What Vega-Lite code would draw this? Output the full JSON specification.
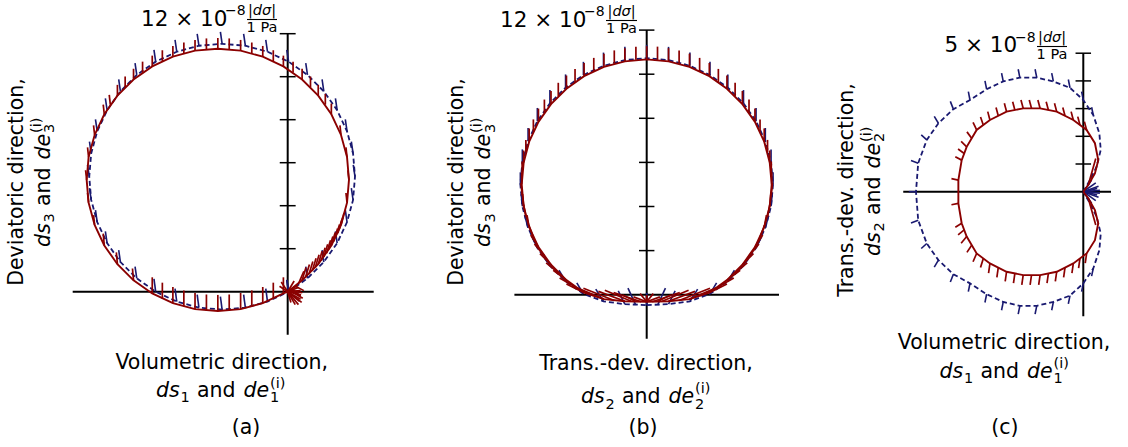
{
  "$schema": "https://vega.github.io/schema/vega-lite/v6.json",
  "padding": 0,
  "spacing": 0,
  "bounds": "flush",
  "background": "white",
  "config": {"view": {"stroke": null}},
  "datasets": {
    "A": [
      {"s":"r","i":0,"x":0,"y":0,"u":0.5,"v":0.2},
      {"s":"r","i":1,"x":0.67,"y":0.53,"u":0.85,"v":1.13},
      {"s":"r","i":2,"x":1.42,"y":1.28,"u":1.6,"v":1.88},
      {"s":"r","i":3,"x":2.03,"y":2.15,"u":2.21,"v":2.75},
      {"s":"r","i":4,"x":2.48,"y":3.11,"u":2.62,"v":3.66},
      {"s":"r","i":5,"x":2.76,"y":4.14,"u":2.71,"v":4.59},
      {"s":"r","i":6,"x":2.85,"y":5.2,"u":2.8,"v":5.65},
      {"s":"r","i":7,"x":2.76,"y":6.26,"u":2.71,"v":6.71},
      {"s":"r","i":8,"x":2.48,"y":7.29,"u":2.43,"v":7.74},
      {"s":"r","i":9,"x":2.03,"y":8.25,"u":2.03,"v":8.75},
      {"s":"r","i":10,"x":1.42,"y":9.12,"u":1.42,"v":9.62},
      {"s":"r","i":11,"x":0.67,"y":9.87,"u":0.67,"v":10.37},
      {"s":"r","i":12,"x":-0.2,"y":10.48,"u":-0.2,"v":10.98},
      {"s":"r","i":13,"x":-1.16,"y":10.93,"u":-1.16,"v":11.43},
      {"s":"r","i":14,"x":-2.19,"y":11.21,"u":-2.19,"v":11.71},
      {"s":"r","i":15,"x":-3.25,"y":11.3,"u":-3.25,"v":11.8},
      {"s":"r","i":16,"x":-4.31,"y":11.21,"u":-4.31,"v":11.71},
      {"s":"r","i":17,"x":-5.34,"y":10.93,"u":-5.34,"v":11.43},
      {"s":"r","i":18,"x":-6.3,"y":10.48,"u":-6.3,"v":10.98},
      {"s":"r","i":19,"x":-7.17,"y":9.87,"u":-7.17,"v":10.37},
      {"s":"r","i":20,"x":-7.92,"y":9.12,"u":-7.92,"v":9.62},
      {"s":"r","i":21,"x":-8.53,"y":8.25,"u":-8.58,"v":8.7},
      {"s":"r","i":22,"x":-8.98,"y":7.29,"u":-9.03,"v":7.74},
      {"s":"r","i":23,"x":-9.26,"y":6.26,"u":-9.31,"v":6.71},
      {"s":"r","i":24,"x":-9.35,"y":5.2,"u":-9.4,"v":5.65},
      {"s":"r","i":25,"x":-9.26,"y":4.14,"u":-9.31,"v":4.59},
      {"s":"r","i":26,"x":-8.98,"y":3.11,"u":-9.03,"v":3.56},
      {"s":"r","i":27,"x":-8.53,"y":2.15,"u":-8.58,"v":2.7},
      {"s":"r","i":28,"x":-7.92,"y":1.28,"u":-7.97,"v":1.83},
      {"s":"r","i":29,"x":-7.17,"y":0.53,"u":-7.22,"v":1.08},
      {"s":"r","i":30,"x":-6.3,"y":-0.08,"u":-6.3,"v":0.67},
      {"s":"r","i":31,"x":-5.34,"y":-0.53,"u":-5.34,"v":0.22},
      {"s":"r","i":32,"x":-4.31,"y":-0.81,"u":-4.31,"v":-0.06},
      {"s":"r","i":33,"x":-3.25,"y":-0.9,"u":-3.25,"v":-0.15},
      {"s":"r","i":34,"x":-2.19,"y":-0.81,"u":-2.19,"v":-0.06},
      {"s":"r","i":35,"x":-1.16,"y":-0.53,"u":-1.16,"v":0.22},
      {"s":"r","i":36,"x":-0.2,"y":-0.08,"u":-0.2,"v":0.67},
      {"s":"r","i":37,"x":0,"y":0,"u":0.55,"v":-0.45},
      {"s":"r","x":1.75,"y":8.7,"u":1.75,"v":9.2},
      {"s":"r","x":1.06,"y":9.51,"u":1.06,"v":10.01},
      {"s":"r","x":0.25,"y":10.2,"u":0.25,"v":10.7},
      {"s":"r","x":-0.67,"y":10.73,"u":-0.67,"v":11.23},
      {"s":"r","x":-1.67,"y":11.09,"u":-1.67,"v":11.59},
      {"s":"r","x":-2.72,"y":11.28,"u":-2.72,"v":11.78},
      {"s":"r","x":-3.78,"y":11.28,"u":-3.78,"v":11.78},
      {"s":"r","x":-4.83,"y":11.09,"u":-4.83,"v":11.59},
      {"s":"r","x":-5.83,"y":10.73,"u":-5.83,"v":11.23},
      {"s":"r","x":-6.75,"y":10.2,"u":-6.75,"v":10.7},
      {"s":"r","x":-7.56,"y":9.51,"u":-7.56,"v":10.01},
      {"s":"r","x":-8.25,"y":8.7,"u":-8.3,"v":9.15},
      {"s":"r","x":-5.83,"y":-0.33,"u":-5.83,"v":0.42},
      {"s":"r","x":-4.83,"y":-0.69,"u":-4.83,"v":0.06},
      {"s":"r","x":-3.78,"y":-0.88,"u":-3.78,"v":-0.13},
      {"s":"r","x":-2.72,"y":-0.88,"u":-2.72,"v":-0.13},
      {"s":"r","x":-1.67,"y":-0.69,"u":-1.67,"v":0.06},
      {"s":"r","x":-0.67,"y":-0.33,"u":-0.67,"v":0.42},
      {"s":"r","x":0.16,"y":0.14,"u":0.6,"v":-0.2},
      {"s":"r","x":0.34,"y":0.27,"u":0.75,"v":0.05},
      {"s":"r","x":0.51,"y":0.39,"u":0.75,"v":0.95},
      {"s":"r","x":0.83,"y":0.67,"u":1.01,"v":1.27},
      {"s":"r","x":0.99,"y":0.81,"u":1.17,"v":1.41},
      {"s":"r","x":1.14,"y":0.96,"u":1.32,"v":1.56},
      {"s":"r","x":1.28,"y":1.12,"u":1.46,"v":1.72},
      {"s":"r","x":1.56,"y":1.44,"u":1.74,"v":2.04},
      {"s":"r","x":1.68,"y":1.61,"u":1.86,"v":2.21},
      {"s":"r","x":1.81,"y":1.79,"u":1.99,"v":2.39},
      {"s":"r","x":1.92,"y":1.97,"u":2.1,"v":2.57},
      {"s":"r","x":2.14,"y":2.34,"u":2.32,"v":2.94},
      {"s":"r","x":2.23,"y":2.53,"u":2.41,"v":3.13},
      {"s":"r","x":2.33,"y":2.72,"u":2.51,"v":3.32},
      {"s":"r","x":2.4,"y":2.91,"u":2.56,"v":3.46},
      {"s":"r","x":0,"y":0,"u":0.65,"v":-0.5},
      {"s":"r","x":0,"y":0,"u":0.6,"v":-0.35},
      {"s":"r","x":0,"y":0,"u":0.62,"v":-0.15},
      {"s":"r","x":0,"y":0,"u":0.6,"v":0.05},
      {"s":"r","x":0,"y":0,"u":0.45,"v":0.3},
      {"s":"r","x":0,"y":0,"u":0.3,"v":0.5},
      {"s":"r","x":0,"y":0,"u":-0.3,"v":0.45},
      {"s":"r","x":0,"y":0,"u":-0.38,"v":0.25},
      {"s":"r","x":0,"y":0,"u":0.35,"v":-0.6},
      {"s":"r","x":0,"y":0,"u":0.15,"v":-0.5},
      {"s":"r","x":0,"y":0,"u":0.5,"v":-0.6},
      {"s":"r","x":0.08,"y":0.06,"u":0.7,"v":-0.3},
      {"s":"r","x":0.08,"y":0.06,"u":0.68,"v":-0.05},
      {"s":"b","i":0,"x":0.04,"y":0,"u":-0.04,"v":0.55},
      {"s":"b","i":1,"x":0.92,"y":0.62,"u":0.84,"v":1.17},
      {"s":"b","i":2,"x":1.68,"y":1.38,"u":1.6,"v":1.93},
      {"s":"b","i":3,"x":2.3,"y":2.26,"u":2.22,"v":2.81},
      {"s":"b","i":4,"x":2.76,"y":3.24,"u":2.68,"v":3.79},
      {"s":"b","i":5,"x":3.04,"y":4.27,"u":2.96,"v":4.82},
      {"s":"b","i":6,"x":3.13,"y":5.35,"u":3.05,"v":5.9},
      {"s":"b","i":7,"x":3.04,"y":6.43,"u":2.96,"v":6.98},
      {"s":"b","i":8,"x":2.76,"y":7.46,"u":2.68,"v":8.01},
      {"s":"b","i":9,"x":2.3,"y":8.44,"u":2.22,"v":8.99},
      {"s":"b","i":10,"x":1.68,"y":9.32,"u":1.6,"v":9.87},
      {"s":"b","i":11,"x":0.92,"y":10.08,"u":0.84,"v":10.63},
      {"s":"b","i":12,"x":0.04,"y":10.7,"u":-0.04,"v":11.25},
      {"s":"b","i":13,"x":-0.94,"y":11.16,"u":-1.02,"v":11.71},
      {"s":"b","i":14,"x":-1.97,"y":11.44,"u":-2.05,"v":11.99},
      {"s":"b","i":15,"x":-3.05,"y":11.53,"u":-3.13,"v":12.08},
      {"s":"b","i":16,"x":-4.13,"y":11.44,"u":-4.21,"v":11.99},
      {"s":"b","i":17,"x":-5.16,"y":11.16,"u":-5.24,"v":11.71},
      {"s":"b","i":18,"x":-6.14,"y":10.7,"u":-6.22,"v":11.25},
      {"s":"b","i":19,"x":-7.02,"y":10.08,"u":-7.1,"v":10.63},
      {"s":"b","i":20,"x":-7.78,"y":9.32,"u":-7.86,"v":9.87},
      {"s":"b","i":21,"x":-8.4,"y":8.44,"u":-8.48,"v":8.99},
      {"s":"b","i":22,"x":-8.86,"y":7.46,"u":-8.94,"v":8.01},
      {"s":"b","i":23,"x":-9.14,"y":6.43,"u":-9.22,"v":6.98},
      {"s":"b","i":24,"x":-9.23,"y":5.35,"u":-9.31,"v":5.9},
      {"s":"b","i":25,"x":-9.14,"y":4.27,"u":-9.22,"v":4.82},
      {"s":"b","i":26,"x":-8.86,"y":3.24,"u":-8.94,"v":3.79},
      {"s":"b","i":27,"x":-8.4,"y":2.26,"u":-8.48,"v":2.81},
      {"s":"b","i":28,"x":-7.78,"y":1.38,"u":-7.86,"v":1.93},
      {"s":"b","i":29,"x":-7.02,"y":0.62,"u":-7.1,"v":1.17},
      {"s":"b","i":30,"x":-6.14,"y":0,"u":-6.22,"v":0.6},
      {"s":"b","i":31,"x":-5.16,"y":-0.46,"u":-5.24,"v":0.14},
      {"s":"b","i":32,"x":-4.13,"y":-0.74,"u":-4.21,"v":-0.14},
      {"s":"b","i":33,"x":-3.05,"y":-0.83,"u":-3.13,"v":-0.23},
      {"s":"b","i":34,"x":-1.97,"y":-0.74,"u":-2.05,"v":-0.14},
      {"s":"b","i":35,"x":-0.94,"y":-0.46,"u":-1.02,"v":0.14},
      {"s":"b","i":36,"x":0.04,"y":0,"u":-0.04,"v":0.55}
    ],
    "B": [
      {"s":"r","i":0,"x":0,"y":-0.32,"u":0,"v":-0.02},
      {"s":"r","i":1,"x":0.99,"y":-0.3,"u":2.19,"v":0.15},
      {"s":"r","i":2,"x":1.94,"y":-0.2,"u":3.14,"v":0.3},
      {"s":"r","i":3,"x":2.84,"y":0.09,"u":3.64,"v":0.49},
      {"s":"r","i":4,"x":3.64,"y":0.66,"u":4.24,"v":1.11},
      {"s":"r","i":5,"x":4.34,"y":1.36,"u":4.84,"v":1.86},
      {"s":"r","i":6,"x":4.91,"y":2.16,"u":5.26,"v":2.71},
      {"s":"r","i":7,"x":5.33,"y":3.06,"u":5.43,"v":3.61},
      {"s":"r","i":8,"x":5.58,"y":4.01,"u":5.63,"v":4.56},
      {"s":"r","i":9,"x":5.67,"y":5,"u":5.67,"v":5.55},
      {"s":"r","i":10,"x":5.58,"y":5.99,"u":5.58,"v":6.54},
      {"s":"r","i":11,"x":5.33,"y":6.94,"u":5.33,"v":7.54},
      {"s":"r","i":12,"x":4.91,"y":7.84,"u":4.91,"v":8.44},
      {"s":"r","i":13,"x":4.34,"y":8.64,"u":4.34,"v":9.24},
      {"s":"r","i":14,"x":3.64,"y":9.34,"u":3.64,"v":9.94},
      {"s":"r","i":15,"x":2.84,"y":9.91,"u":2.84,"v":10.51},
      {"s":"r","i":16,"x":1.94,"y":10.33,"u":1.94,"v":10.93},
      {"s":"r","i":17,"x":0.99,"y":10.58,"u":0.99,"v":11.18},
      {"s":"r","i":18,"x":0,"y":10.67,"u":0,"v":11.27},
      {"s":"r","i":19,"x":-0.99,"y":10.58,"u":-0.99,"v":11.18},
      {"s":"r","i":20,"x":-1.94,"y":10.33,"u":-1.94,"v":10.93},
      {"s":"r","i":21,"x":-2.84,"y":9.91,"u":-2.84,"v":10.51},
      {"s":"r","i":22,"x":-3.64,"y":9.34,"u":-3.64,"v":9.94},
      {"s":"r","i":23,"x":-4.34,"y":8.64,"u":-4.34,"v":9.24},
      {"s":"r","i":24,"x":-4.91,"y":7.84,"u":-4.91,"v":8.44},
      {"s":"r","i":25,"x":-5.33,"y":6.94,"u":-5.33,"v":7.54},
      {"s":"r","i":26,"x":-5.58,"y":5.99,"u":-5.58,"v":6.54},
      {"s":"r","i":27,"x":-5.67,"y":5,"u":-5.67,"v":5.55},
      {"s":"r","i":28,"x":-5.58,"y":4.01,"u":-5.63,"v":4.56},
      {"s":"r","i":29,"x":-5.33,"y":3.06,"u":-5.43,"v":3.61},
      {"s":"r","i":30,"x":-4.91,"y":2.16,"u":-5.26,"v":2.71},
      {"s":"r","i":31,"x":-4.34,"y":1.36,"u":-4.84,"v":1.86},
      {"s":"r","i":32,"x":-3.64,"y":0.66,"u":-4.24,"v":1.11},
      {"s":"r","i":33,"x":-2.84,"y":0.09,"u":-3.64,"v":0.49},
      {"s":"r","i":34,"x":-1.94,"y":-0.2,"u":-3.14,"v":0.3},
      {"s":"r","i":35,"x":-0.99,"y":-0.3,"u":-2.19,"v":0.15},
      {"s":"r","i":36,"x":0,"y":-0.32,"u":0,"v":-0.02},
      {"s":"r","x":4.64,"y":8.25,"u":4.64,"v":8.85},
      {"s":"r","x":4.01,"y":9.01,"u":4.01,"v":9.61},
      {"s":"r","x":3.25,"y":9.64,"u":3.25,"v":10.24},
      {"s":"r","x":2.4,"y":10.14,"u":2.4,"v":10.74},
      {"s":"r","x":1.47,"y":10.48,"u":1.47,"v":11.08},
      {"s":"r","x":0.49,"y":10.65,"u":0.49,"v":11.25},
      {"s":"r","x":-0.49,"y":10.65,"u":-0.49,"v":11.25},
      {"s":"r","x":-1.47,"y":10.48,"u":-1.47,"v":11.08},
      {"s":"r","x":-2.4,"y":10.14,"u":-2.4,"v":10.74},
      {"s":"r","x":-3.25,"y":9.64,"u":-3.25,"v":10.24},
      {"s":"r","x":-4.01,"y":9.01,"u":-4.01,"v":9.61},
      {"s":"r","x":-4.64,"y":8.25,"u":-4.64,"v":8.85},
      {"s":"r","x":5.65,"y":5.49,"u":5.65,"v":6.04},
      {"s":"r","x":5.48,"y":6.47,"u":5.48,"v":7.02},
      {"s":"r","x":5.14,"y":7.4,"u":5.14,"v":7.95},
      {"s":"r","x":-5.14,"y":7.4,"u":-5.14,"v":7.95},
      {"s":"r","x":-5.48,"y":6.47,"u":-5.48,"v":7.02},
      {"s":"r","x":-5.65,"y":5.49,"u":-5.65,"v":6.04},
      {"s":"r","x":-5.65,"y":4.51,"u":-5.7,"v":5.06},
      {"s":"r","x":-5.48,"y":3.53,"u":-5.58,"v":4.08},
      {"s":"r","x":-5.14,"y":2.6,"u":-5.34,"v":3.15},
      {"s":"r","x":5.65,"y":4.51,"u":5.7,"v":5.06},
      {"s":"r","x":5.48,"y":3.53,"u":5.58,"v":4.08},
      {"s":"r","x":5.14,"y":2.6,"u":5.34,"v":3.15},
      {"s":"r","x":-4.64,"y":1.75,"u":-5.09,"v":2.3},
      {"s":"r","x":-4.01,"y":0.99,"u":-4.56,"v":1.44},
      {"s":"r","x":-3.25,"y":0.36,"u":-3.95,"v":0.76},
      {"s":"r","x":-2.4,"y":-0.05,"u":-3.4,"v":0.4},
      {"s":"r","x":-1.47,"y":-0.26,"u":-2.87,"v":0.29},
      {"s":"r","x":-0.49,"y":-0.31,"u":-1.09,"v":-0.01},
      {"s":"r","x":0.49,"y":-0.31,"u":1.09,"v":-0.01},
      {"s":"r","x":1.47,"y":-0.26,"u":2.87,"v":0.29},
      {"s":"r","x":2.4,"y":-0.05,"u":3.4,"v":0.4},
      {"s":"r","x":3.25,"y":0.36,"u":3.95,"v":0.76},
      {"s":"r","x":4.01,"y":0.99,"u":4.56,"v":1.44},
      {"s":"r","x":4.64,"y":1.75,"u":5.09,"v":2.3},
      {"s":"r","x":0,"y":-0.32,"u":-0.6,"v":-0.1},
      {"s":"r","x":0,"y":-0.32,"u":0.6,"v":-0.1},
      {"s":"r","x":0,"y":-0.32,"u":-0.3,"v":0.05},
      {"s":"r","x":0,"y":-0.32,"u":0.3,"v":0.05},
      {"s":"r","x":-0.25,"y":-0.32,"u":-1.5,"v":0.1},
      {"s":"r","x":0.25,"y":-0.32,"u":1.5,"v":0.1},
      {"s":"r","x":-0.7,"y":-0.3,"u":-1.9,"v":0.2},
      {"s":"r","x":0.7,"y":-0.3,"u":1.9,"v":0.2},
      {"s":"b","i":0,"x":0,"y":-0.47,"u":0,"v":0.08},
      {"s":"b","i":1,"x":0.99,"y":-0.43,"u":1.29,"v":0.17},
      {"s":"b","i":2,"x":1.96,"y":-0.3,"u":2.31,"v":0.25},
      {"s":"b","i":3,"x":2.87,"y":0.04,"u":3.17,"v":0.54},
      {"s":"b","i":4,"x":3.68,"y":0.61,"u":3.98,"v":1.11},
      {"s":"b","i":5,"x":4.39,"y":1.32,"u":4.69,"v":1.82},
      {"s":"b","i":6,"x":4.96,"y":2.13,"u":5.21,"v":2.63},
      {"s":"b","i":7,"x":5.38,"y":3.04,"u":5.53,"v":3.59},
      {"s":"b","i":8,"x":5.64,"y":4.01,"u":5.69,"v":4.56},
      {"s":"b","i":9,"x":5.73,"y":5,"u":5.73,"v":5.55},
      {"s":"b","i":10,"x":5.64,"y":5.99,"u":5.64,"v":6.59},
      {"s":"b","i":11,"x":5.38,"y":6.96,"u":5.38,"v":7.56},
      {"s":"b","i":12,"x":4.96,"y":7.87,"u":4.96,"v":8.47},
      {"s":"b","i":13,"x":4.39,"y":8.68,"u":4.39,"v":9.28},
      {"s":"b","i":14,"x":3.68,"y":9.39,"u":3.68,"v":9.99},
      {"s":"b","i":15,"x":2.87,"y":9.96,"u":2.87,"v":10.56},
      {"s":"b","i":16,"x":1.96,"y":10.38,"u":1.96,"v":10.98},
      {"s":"b","i":17,"x":0.99,"y":10.64,"u":0.99,"v":11.24},
      {"s":"b","i":18,"x":0,"y":10.73,"u":0,"v":11.33},
      {"s":"b","i":19,"x":-0.99,"y":10.64,"u":-0.99,"v":11.24},
      {"s":"b","i":20,"x":-1.96,"y":10.38,"u":-1.96,"v":10.98},
      {"s":"b","i":21,"x":-2.87,"y":9.96,"u":-2.87,"v":10.56},
      {"s":"b","i":22,"x":-3.68,"y":9.39,"u":-3.68,"v":9.99},
      {"s":"b","i":23,"x":-4.39,"y":8.68,"u":-4.39,"v":9.28},
      {"s":"b","i":24,"x":-4.96,"y":7.87,"u":-4.96,"v":8.47},
      {"s":"b","i":25,"x":-5.38,"y":6.96,"u":-5.38,"v":7.56},
      {"s":"b","i":26,"x":-5.64,"y":5.99,"u":-5.64,"v":6.59},
      {"s":"b","i":27,"x":-5.73,"y":5,"u":-5.73,"v":5.55},
      {"s":"b","i":28,"x":-5.64,"y":4.01,"u":-5.69,"v":4.56},
      {"s":"b","i":29,"x":-5.38,"y":3.04,"u":-5.53,"v":3.59},
      {"s":"b","i":30,"x":-4.96,"y":2.13,"u":-5.21,"v":2.63},
      {"s":"b","i":31,"x":-4.39,"y":1.32,"u":-4.69,"v":1.82},
      {"s":"b","i":32,"x":-3.68,"y":0.61,"u":-3.98,"v":1.11},
      {"s":"b","i":33,"x":-2.87,"y":0.04,"u":-3.17,"v":0.54},
      {"s":"b","i":34,"x":-1.96,"y":-0.3,"u":-2.31,"v":0.25},
      {"s":"b","i":35,"x":-0.99,"y":-0.43,"u":-1.29,"v":0.17},
      {"s":"b","i":36,"x":0,"y":-0.47,"u":0,"v":0.08},
      {"s":"b","x":-0.5,"y":-0.46,"u":-0.85,"v":0.3},
      {"s":"b","x":0.5,"y":-0.46,"u":0.85,"v":0.3}
    ],
    "C": [
      {"s":"r","i":0,"x":0,"y":0},
      {"s":"r","i":1,"x":0.18,"y":0.24,"u":0.45,"v":1.2},
      {"s":"r","i":2,"x":0.42,"y":0.66},
      {"s":"r","i":3,"x":0.54,"y":1.14},
      {"s":"r","i":4,"x":0.42,"y":1.75},
      {"s":"r","i":5,"x":0.12,"y":2.23,"u":0.04,"v":2.53},
      {"s":"r","i":6,"x":-0.36,"y":2.59,"u":-0.44,"v":2.89},
      {"s":"r","i":7,"x":-0.96,"y":2.89,"u":-1.04,"v":3.19},
      {"s":"r","i":8,"x":-1.56,"y":3.01,"u":-1.64,"v":3.31},
      {"s":"r","i":9,"x":-2.17,"y":3.01,"u":-2.25,"v":3.31},
      {"s":"r","i":10,"x":-2.77,"y":2.89,"u":-2.85,"v":3.19},
      {"s":"r","i":11,"x":-3.37,"y":2.59,"u":-3.45,"v":2.89},
      {"s":"r","i":12,"x":-3.85,"y":2.23,"u":-3.98,"v":2.5},
      {"s":"r","i":13,"x":-4.21,"y":1.62,"u":-4.41,"v":1.82},
      {"s":"r","i":14,"x":-4.39,"y":1.14,"u":-4.62,"v":1.26},
      {"s":"r","i":15,"x":-4.51,"y":0.42,"u":-4.76,"v":0.47},
      {"s":"r","i":16,"x":-4.51,"y":-0.42,"u":-4.76,"v":-0.47},
      {"s":"r","i":17,"x":-4.39,"y":-1.14,"u":-4.62,"v":-1.28},
      {"s":"r","i":18,"x":-4.21,"y":-1.62,"u":-4.41,"v":-1.86},
      {"s":"r","i":19,"x":-3.85,"y":-2.23,"u":-3.98,"v":-2.53},
      {"s":"r","i":20,"x":-3.37,"y":-2.59,"u":-3.42,"v":-2.94},
      {"s":"r","i":21,"x":-2.77,"y":-2.89,"u":-2.82,"v":-3.24},
      {"s":"r","i":22,"x":-2.17,"y":-3.01,"u":-2.22,"v":-3.36},
      {"s":"r","i":23,"x":-1.56,"y":-3.01,"u":-1.61,"v":-3.36},
      {"s":"r","i":24,"x":-0.96,"y":-2.89,"u":-1.01,"v":-3.24},
      {"s":"r","i":25,"x":-0.36,"y":-2.59,"u":-0.41,"v":-2.94},
      {"s":"r","i":26,"x":0.12,"y":-2.23,"u":0.07,"v":-2.58},
      {"s":"r","i":27,"x":0.42,"y":-1.75},
      {"s":"r","i":28,"x":0.54,"y":-1.14},
      {"s":"r","i":29,"x":0.42,"y":-0.66},
      {"s":"r","i":30,"x":0.18,"y":-0.24,"u":0.45,"v":-1.2},
      {"s":"r","i":31,"x":0,"y":0},
      {"s":"r","x":-0.12,"y":2.41,"u":-0.2,"v":2.71},
      {"s":"r","x":-0.66,"y":2.74,"u":-0.74,"v":3.04},
      {"s":"r","x":-1.26,"y":2.95,"u":-1.34,"v":3.25},
      {"s":"r","x":-1.87,"y":3.01,"u":-1.95,"v":3.31},
      {"s":"r","x":-2.47,"y":2.95,"u":-2.55,"v":3.25},
      {"s":"r","x":-3.07,"y":2.74,"u":-3.15,"v":3.04},
      {"s":"r","x":-3.61,"y":2.41,"u":-3.71,"v":2.7},
      {"s":"r","x":-4.03,"y":1.93,"u":-4.2,"v":2.16},
      {"s":"r","x":-4.3,"y":1.38,"u":-4.52,"v":1.54},
      {"s":"r","x":-0.12,"y":-2.41,"u":-0.17,"v":-2.76},
      {"s":"r","x":-0.66,"y":-2.74,"u":-0.71,"v":-3.09},
      {"s":"r","x":-1.26,"y":-2.95,"u":-1.31,"v":-3.3},
      {"s":"r","x":-1.87,"y":-3.01,"u":-1.92,"v":-3.36},
      {"s":"r","x":-2.47,"y":-2.95,"u":-2.52,"v":-3.3},
      {"s":"r","x":-3.07,"y":-2.74,"u":-3.12,"v":-3.09},
      {"s":"r","x":-3.61,"y":-2.41,"u":-3.71,"v":-2.74},
      {"s":"r","x":-4.03,"y":-1.93,"u":-4.2,"v":-2.19},
      {"s":"r","x":-4.3,"y":-1.38,"u":-4.52,"v":-1.56},
      {"s":"b","i":0,"x":0,"y":0},
      {"s":"b","i":1,"x":0.24,"y":0.42},
      {"s":"b","i":2,"x":0.48,"y":0.9},
      {"s":"b","i":3,"x":0.63,"y":1.51},
      {"s":"b","i":4,"x":0.58,"y":2.11},
      {"s":"b","i":5,"x":0.36,"y":2.77,"u":0.3,"v":3.05},
      {"s":"b","i":6,"x":0,"y":3.31,"u":-0.06,"v":3.61},
      {"s":"b","i":7,"x":-0.48,"y":3.75,"u":-0.54,"v":4.05},
      {"s":"b","i":8,"x":-1.08,"y":3.98,"u":-1.14,"v":4.28},
      {"s":"b","i":9,"x":-1.68,"y":4.12,"u":-1.74,"v":4.42},
      {"s":"b","i":10,"x":-2.29,"y":4.12,"u":-2.35,"v":4.42},
      {"s":"b","i":11,"x":-2.89,"y":3.98,"u":-2.95,"v":4.28},
      {"s":"b","i":12,"x":-3.49,"y":3.7,"u":-3.55,"v":4.0},
      {"s":"b","i":13,"x":-4.09,"y":3.31,"u":-4.15,"v":3.61},
      {"s":"b","i":14,"x":-4.69,"y":2.98,"u":-4.8,"v":3.26},
      {"s":"b","i":15,"x":-5.23,"y":2.47,"u":-5.38,"v":2.72},
      {"s":"b","i":16,"x":-5.65,"y":1.87,"u":-5.85,"v":2.05},
      {"s":"b","i":17,"x":-5.96,"y":1.03,"u":-6.22,"v":1.13},
      {"s":"b","i":18,"x":-6.04,"y":0,"u":-6.3,"v":0},
      {"s":"b","i":19,"x":-5.96,"y":-1.03,"u":-6.22,"v":-1.13},
      {"s":"b","i":20,"x":-5.65,"y":-1.87,"u":-5.85,"v":-2.05},
      {"s":"b","i":21,"x":-5.23,"y":-2.47,"u":-5.38,"v":-2.72},
      {"s":"b","i":22,"x":-4.69,"y":-2.98,"u":-4.8,"v":-3.26},
      {"s":"b","i":23,"x":-4.09,"y":-3.31,"u":-4.15,"v":-3.61},
      {"s":"b","i":24,"x":-3.49,"y":-3.7,"u":-3.55,"v":-4.0},
      {"s":"b","i":25,"x":-2.89,"y":-3.98,"u":-2.95,"v":-4.28},
      {"s":"b","i":26,"x":-2.29,"y":-4.12,"u":-2.35,"v":-4.42},
      {"s":"b","i":27,"x":-1.68,"y":-4.12,"u":-1.74,"v":-4.42},
      {"s":"b","i":28,"x":-1.08,"y":-3.98,"u":-1.14,"v":-4.28},
      {"s":"b","i":29,"x":-0.48,"y":-3.75,"u":-0.54,"v":-4.05},
      {"s":"b","i":30,"x":0,"y":-3.31,"u":-0.06,"v":-3.61},
      {"s":"b","i":31,"x":0.36,"y":-2.77,"u":0.3,"v":-3.05},
      {"s":"b","i":32,"x":0.58,"y":-2.11},
      {"s":"b","i":33,"x":0.63,"y":-1.51},
      {"s":"b","i":34,"x":0.48,"y":-0.9},
      {"s":"b","i":35,"x":0.24,"y":-0.42},
      {"s":"b","i":36,"x":0,"y":0},
      {"s":"b","x":0,"y":0,"u":0.55,"v":0.2},
      {"s":"b","x":0,"y":0,"u":0.6,"v":0.05},
      {"s":"b","x":0,"y":0,"u":0.6,"v":-0.05},
      {"s":"b","x":0,"y":0,"u":0.55,"v":-0.2},
      {"s":"b","x":0,"y":0,"u":0.45,"v":0.32},
      {"s":"b","x":0,"y":0,"u":0.45,"v":-0.32},
      {"s":"b","x":0,"y":0,"u":0.3,"v":0.42},
      {"s":"b","x":0,"y":0,"u":0.3,"v":-0.42},
      {"s":"b","x":0.05,"y":0,"u":0.5,"v":0.12},
      {"s":"b","x":0.05,"y":0,"u":0.5,"v":-0.12}
    ],
    "R": [
      {"p":"a","k":"axis","x":-10,"y":0,"x2":4,"y2":0},
      {"p":"a","k":"axis","x":0,"y":-2,"x2":0,"y2":12},
      {"p":"a","k":"tick","x":-0.37,"y":2,"x2":0.37,"y2":2},
      {"p":"a","k":"tick","x":-0.37,"y":4,"x2":0.37,"y2":4},
      {"p":"a","k":"tick","x":-0.37,"y":6,"x2":0.37,"y2":6},
      {"p":"a","k":"tick","x":-0.37,"y":8,"x2":0.37,"y2":8},
      {"p":"a","k":"tick","x":-0.37,"y":10,"x2":0.37,"y2":10},
      {"p":"a","k":"tick","x":-0.37,"y":12,"x2":0.37,"y2":12},
      {"p":"a","k":"bar","x":-1.893,"y":12.66,"x2":-0.498,"y2":12.66},
      {"p":"b","k":"axis","x":-6,"y":0,"x2":6,"y2":0},
      {"p":"b","k":"axis","x":0,"y":-2,"x2":0,"y2":12},
      {"p":"b","k":"tick","x":-0.35,"y":2,"x2":0.35,"y2":2},
      {"p":"b","k":"tick","x":-0.35,"y":4,"x2":0.35,"y2":4},
      {"p":"b","k":"tick","x":-0.35,"y":6,"x2":0.35,"y2":6},
      {"p":"b","k":"tick","x":-0.35,"y":8,"x2":0.35,"y2":8},
      {"p":"b","k":"tick","x":-0.35,"y":10,"x2":0.35,"y2":10},
      {"p":"b","k":"tick","x":-0.35,"y":12,"x2":0.35,"y2":12},
      {"p":"b","k":"bar","x":-1.846,"y":12.435,"x2":-0.44,"y2":12.435},
      {"p":"c","k":"axis","x":-6.5,"y":0,"x2":1,"y2":0},
      {"p":"c","k":"axis","x":0,"y":-4.5,"x2":0,"y2":5},
      {"p":"c","k":"tick","x":-0.28,"y":1,"x2":0.28,"y2":1},
      {"p":"c","k":"tick","x":-0.28,"y":2,"x2":0.28,"y2":2},
      {"p":"c","k":"tick","x":-0.28,"y":3,"x2":0.28,"y2":3},
      {"p":"c","k":"tick","x":-0.28,"y":4,"x2":0.28,"y2":4},
      {"p":"c","k":"tick","x":-0.28,"y":5,"x2":0.28,"y2":5},
      {"p":"c","k":"bar","x":-1.671,"y":5.242,"x2":-0.588,"y2":5.242}
    ],
    "T": [
      {"p":"a","role":"axis","dir":"h","t":"Volumetric direction,","x":-3.07,"y":-3.572},
      {"p":"a","role":"sym","dir":"h","t":"ds","x":-6.126,"y":-4.912},
      {"p":"a","role":"idx","dir":"h","t":"1","x":-4.986,"y":-5.13},
      {"p":"a","role":"word","dir":"h","t":"and","x":-4.219,"y":-4.912},
      {"p":"a","role":"sym","dir":"h","t":"de","x":-2.056,"y":-4.912},
      {"p":"a","role":"idx","dir":"h","t":"1","x":-0.823,"y":-5.13},
      {"p":"a","role":"idx","dir":"h","t":"(i)","x":-0.823,"y":-4.479},
      {"p":"a","role":"panel","dir":"h","t":"(a)","x":-1.94,"y":-6.619},
      {"p":"a","role":"axis","dir":"v","t":"Deviatoric direction,","x":-12.312,"y":5.102},
      {"p":"a","role":"sym","dir":"v","t":"ds","x":-11.056,"y":2.079},
      {"p":"a","role":"idx","dir":"v","t":"3","x":-10.847,"y":3.219},
      {"p":"a","role":"word","dir":"v","t":"and","x":-11.056,"y":3.986},
      {"p":"a","role":"sym","dir":"v","t":"de","x":-11.056,"y":6.149},
      {"p":"a","role":"idx","dir":"v","t":"3","x":-10.847,"y":7.381},
      {"p":"a","role":"idx","dir":"v","t":"(i)","x":-11.475,"y":7.381},
      {"p":"a","role":"scale","dir":"h","t":"12 × 10","x":-6.823,"y":12.358},
      {"p":"a","role":"pow","dir":"h","t":"−8","x":-2.916,"y":12.847},
      {"p":"a","role":"num","dir":"h","t":"|dσ|","x":-1.847,"y":12.87},
      {"p":"a","role":"den","dir":"h","t":"1 Pa","x":-1.195,"y":12.079},
      {"p":"b","role":"axis","dir":"h","t":"Trans.-dev. direction,","x":-0.032,"y":-3.415},
      {"p":"b","role":"sym","dir":"h","t":"ds","x":-2.98,"y":-4.912},
      {"p":"b","role":"idx","dir":"h","t":"2","x":-1.868,"y":-5.161},
      {"p":"b","role":"word","dir":"h","t":"and","x":-1.12,"y":-4.912},
      {"p":"b","role":"sym","dir":"h","t":"de","x":0.989,"y":-4.912},
      {"p":"b","role":"idx","dir":"h","t":"2","x":2.19,"y":-5.161},
      {"p":"b","role":"idx","dir":"h","t":"(i)","x":2.19,"y":-4.458},
      {"p":"b","role":"panel","dir":"h","t":"(b)","x":-0.168,"y":-6.317},
      {"p":"b","role":"axis","dir":"v","t":"Deviatoric direction,","x":-8.331,"y":5.111},
      {"p":"b","role":"sym","dir":"v","t":"ds","x":-7.107,"y":2.163},
      {"p":"b","role":"idx","dir":"v","t":"3","x":-6.902,"y":3.274},
      {"p":"b","role":"word","dir":"v","t":"and","x":-7.107,"y":4.023},
      {"p":"b","role":"sym","dir":"v","t":"de","x":-7.107,"y":6.132},
      {"p":"b","role":"idx","dir":"v","t":"3","x":-6.902,"y":7.333},
      {"p":"b","role":"idx","dir":"v","t":"(i)","x":-7.515,"y":7.333},
      {"p":"b","role":"scale","dir":"h","t":"12 × 10","x":-6.653,"y":12.141},
      {"p":"b","role":"pow","dir":"h","t":"−8","x":-2.844,"y":12.639},
      {"p":"b","role":"num","dir":"h","t":"|dσ|","x":-1.778,"y":12.639},
      {"p":"b","role":"den","dir":"h","t":"1 Pa","x":-1.143,"y":11.868},
      {"p":"c","role":"axis","dir":"h","t":"Volumetric direction,","x":-2.863,"y":-5.679},
      {"p":"c","role":"sym","dir":"h","t":"ds","x":-5.195,"y":-6.726},
      {"p":"c","role":"idx","dir":"h","t":"1","x":-4.307,"y":-6.924},
      {"p":"c","role":"word","dir":"h","t":"and","x":-3.715,"y":-6.726},
      {"p":"c","role":"sym","dir":"h","t":"de","x":-2.032,"y":-6.726},
      {"p":"c","role":"idx","dir":"h","t":"1","x":-1.076,"y":-6.924},
      {"p":"c","role":"idx","dir":"h","t":"(i)","x":-1.076,"y":-6.347},
      {"p":"c","role":"panel","dir":"h","t":"(c)","x":-2.827,"y":-8.747},
      {"p":"c","role":"axis","dir":"v","t":"Trans.-dev. direction,","x":-8.296,"y":0.061},
      {"p":"c","role":"sym","dir":"v","t":"ds","x":-7.339,"y":-2.321},
      {"p":"c","role":"idx","dir":"v","t":"2","x":-7.177,"y":-1.437},
      {"p":"c","role":"word","dir":"v","t":"and","x":-7.339,"y":-0.841},
      {"p":"c","role":"sym","dir":"v","t":"de","x":-7.339,"y":0.838},
      {"p":"c","role":"idx","dir":"v","t":"2","x":-7.177,"y":1.794},
      {"p":"c","role":"idx","dir":"v","t":"(i)","x":-7.664,"y":1.794},
      {"p":"c","role":"scale","dir":"h","t":"5 × 10","x":-5.011,"y":5.043},
      {"p":"c","role":"pow","dir":"h","t":"−8","x":-2.466,"y":5.422},
      {"p":"c","role":"num","dir":"h","t":"|dσ|","x":-1.635,"y":5.422},
      {"p":"c","role":"den","dir":"h","t":"1 Pa","x":-1.13,"y":4.791}
    ]
  },
  "hconcat": [
    {
      "width": 376,
      "height": 447,
      "encoding": {
        "x": {"field": "x", "type": "quantitative", "axis": null, "scale": {"domain": [-13.381, 4.107], "nice": false, "zero": false}},
        "y": {"field": "y", "type": "quantitative", "axis": null, "scale": {"domain": [-7.223, 13.567], "nice": false, "zero": false}}
      },
      "layer": [
        {"data": {"name": "R"}, "transform": [{"filter": "datum.p == 'a' && datum.k == 'axis'"}], "mark": {"type": "rule", "color": "black", "strokeWidth": 2}, "encoding": {"x2": {"field": "x2"}, "y2": {"field": "y2"}}},
        {"data": {"name": "R"}, "transform": [{"filter": "datum.p == 'a' && datum.k == 'tick'"}], "mark": {"type": "rule", "color": "black", "strokeWidth": 1.5}, "encoding": {"x2": {"field": "x2"}, "y2": {"field": "y2"}}},
        {"data": {"name": "R"}, "transform": [{"filter": "datum.p == 'a' && datum.k == 'bar'"}], "mark": {"type": "rule", "color": "black", "strokeWidth": 1.1}, "encoding": {"x2": {"field": "x2"}, "y2": {"field": "y2"}}},
        {"data": {"name": "A"}, "transform": [{"filter": "datum.s == 'b' && isValid(datum.i)"}], "mark": {"type": "line", "color": "#191970", "strokeWidth": 1.8, "strokeDash": [5, 3]}, "encoding": {"order": {"field": "i", "type": "quantitative"}}},
        {"data": {"name": "A"}, "transform": [{"filter": "datum.s == 'b' && isValid(datum.u)"}], "mark": {"type": "rule", "color": "#191970", "strokeWidth": 1.6}, "encoding": {"x2": {"field": "u"}, "y2": {"field": "v"}}},
        {"data": {"name": "A"}, "transform": [{"filter": "datum.s == 'r' && isValid(datum.i)"}], "mark": {"type": "line", "color": "#8b0000", "strokeWidth": 1.9}, "encoding": {"order": {"field": "i", "type": "quantitative"}}},
        {"data": {"name": "A"}, "transform": [{"filter": "datum.s == 'r' && isValid(datum.u)"}], "mark": {"type": "rule", "color": "#8b0000", "strokeWidth": 1.7}, "encoding": {"x2": {"field": "u"}, "y2": {"field": "v"}}},
        {"data": {"name": "T"}, "transform": [{"filter": "datum.p == 'a' && indexof(['axis','panel','den'], datum.role) >= 0"}], "mark": {"type": "text", "align": "center", "baseline": "alphabetic", "font": "DejaVu Sans", "color": "black"},
         "encoding": {"text": {"field": "t"}, "size": {"field": "role", "type": "nominal", "legend": null, "scale": {"type": "ordinal", "domain": ["axis","panel","sym","word","idx","scale","pow","num","den"], "range": [20.5,20.5,20.5,20.5,14.5,21.5,14,14.5,14.5]}}, "angle": {"field": "dir", "type": "nominal", "legend": null, "scale": {"type": "ordinal", "domain": ["h","v"], "range": [0,270]}}}},
        {"data": {"name": "T"}, "transform": [{"filter": "datum.p == 'a' && indexof(['word','idx','scale','pow'], datum.role) >= 0"}], "mark": {"type": "text", "align": "left", "baseline": "alphabetic", "font": "DejaVu Sans", "color": "black"},
         "encoding": {"text": {"field": "t"}, "size": {"field": "role", "type": "nominal", "legend": null, "scale": {"type": "ordinal", "domain": ["axis","panel","sym","word","idx","scale","pow","num","den"], "range": [20.5,20.5,20.5,20.5,14.5,21.5,14,14.5,14.5]}}, "angle": {"field": "dir", "type": "nominal", "legend": null, "scale": {"type": "ordinal", "domain": ["h","v"], "range": [0,270]}}}},
        {"data": {"name": "T"}, "transform": [{"filter": "datum.p == 'a' && indexof(['sym','num'], datum.role) >= 0"}], "mark": {"type": "text", "align": "left", "baseline": "alphabetic", "font": "DejaVu Sans", "fontStyle": "italic", "color": "black"},
         "encoding": {"text": {"field": "t"}, "size": {"field": "role", "type": "nominal", "legend": null, "scale": {"type": "ordinal", "domain": ["axis","panel","sym","word","idx","scale","pow","num","den"], "range": [20.5,20.5,20.5,20.5,14.5,21.5,14,14.5,14.5]}}, "angle": {"field": "dir", "type": "nominal", "legend": null, "scale": {"type": "ordinal", "domain": ["h","v"], "range": [0,270]}}}}
      ]
    },
    {
      "width": 414,
      "height": 447,
      "encoding": {
        "x": {"field": "x", "type": "quantitative", "axis": null, "scale": {"domain": [-12.277, 6.499], "nice": false, "zero": false}},
        "y": {"field": "y", "type": "quantitative", "axis": null, "scale": {"domain": [-6.907, 13.365], "nice": false, "zero": false}}
      },
      "layer": [
        {"data": {"name": "R"}, "transform": [{"filter": "datum.p == 'b' && datum.k == 'axis'"}], "mark": {"type": "rule", "color": "black", "strokeWidth": 2}, "encoding": {"x2": {"field": "x2"}, "y2": {"field": "y2"}}},
        {"data": {"name": "R"}, "transform": [{"filter": "datum.p == 'b' && datum.k == 'tick'"}], "mark": {"type": "rule", "color": "black", "strokeWidth": 1.5}, "encoding": {"x2": {"field": "x2"}, "y2": {"field": "y2"}}},
        {"data": {"name": "R"}, "transform": [{"filter": "datum.p == 'b' && datum.k == 'bar'"}], "mark": {"type": "rule", "color": "black", "strokeWidth": 1.1}, "encoding": {"x2": {"field": "x2"}, "y2": {"field": "y2"}}},
        {"data": {"name": "B"}, "transform": [{"filter": "datum.s == 'b' && isValid(datum.i)"}], "mark": {"type": "line", "color": "#191970", "strokeWidth": 1.8, "strokeDash": [5, 3]}, "encoding": {"order": {"field": "i", "type": "quantitative"}}},
        {"data": {"name": "B"}, "transform": [{"filter": "datum.s == 'b' && isValid(datum.u)"}], "mark": {"type": "rule", "color": "#191970", "strokeWidth": 1.6}, "encoding": {"x2": {"field": "u"}, "y2": {"field": "v"}}},
        {"data": {"name": "B"}, "transform": [{"filter": "datum.s == 'r' && isValid(datum.i)"}], "mark": {"type": "line", "color": "#8b0000", "strokeWidth": 1.9}, "encoding": {"order": {"field": "i", "type": "quantitative"}}},
        {"data": {"name": "B"}, "transform": [{"filter": "datum.s == 'r' && isValid(datum.u)"}], "mark": {"type": "rule", "color": "#8b0000", "strokeWidth": 1.7}, "encoding": {"x2": {"field": "u"}, "y2": {"field": "v"}}},
        {"data": {"name": "T"}, "transform": [{"filter": "datum.p == 'b' && indexof(['axis','panel','den'], datum.role) >= 0"}], "mark": {"type": "text", "align": "center", "baseline": "alphabetic", "font": "DejaVu Sans", "color": "black"},
         "encoding": {"text": {"field": "t"}, "size": {"field": "role", "type": "nominal", "legend": null, "scale": {"type": "ordinal", "domain": ["axis","panel","sym","word","idx","scale","pow","num","den"], "range": [20.5,20.5,20.5,20.5,14.5,21.5,14,14.5,14.5]}}, "angle": {"field": "dir", "type": "nominal", "legend": null, "scale": {"type": "ordinal", "domain": ["h","v"], "range": [0,270]}}}},
        {"data": {"name": "T"}, "transform": [{"filter": "datum.p == 'b' && indexof(['word','idx','scale','pow'], datum.role) >= 0"}], "mark": {"type": "text", "align": "left", "baseline": "alphabetic", "font": "DejaVu Sans", "color": "black"},
         "encoding": {"text": {"field": "t"}, "size": {"field": "role", "type": "nominal", "legend": null, "scale": {"type": "ordinal", "domain": ["axis","panel","sym","word","idx","scale","pow","num","den"], "range": [20.5,20.5,20.5,20.5,14.5,21.5,14,14.5,14.5]}}, "angle": {"field": "dir", "type": "nominal", "legend": null, "scale": {"type": "ordinal", "domain": ["h","v"], "range": [0,270]}}}},
        {"data": {"name": "T"}, "transform": [{"filter": "datum.p == 'b' && indexof(['sym','num'], datum.role) >= 0"}], "mark": {"type": "text", "align": "left", "baseline": "alphabetic", "font": "DejaVu Sans", "fontStyle": "italic", "color": "black"},
         "encoding": {"text": {"field": "t"}, "size": {"field": "role", "type": "nominal", "legend": null, "scale": {"type": "ordinal", "domain": ["axis","panel","sym","word","idx","scale","pow","num","den"], "range": [20.5,20.5,20.5,20.5,14.5,21.5,14,14.5,14.5]}}, "angle": {"field": "dir", "type": "nominal", "legend": null, "scale": {"type": "ordinal", "domain": ["h","v"], "range": [0,270]}}}}
      ]
    },
    {
      "width": 338,
      "height": 447,
      "encoding": {
        "x": {"field": "x", "type": "quantitative", "axis": null, "scale": {"domain": [-10.588, 1.614], "nice": false, "zero": false}},
        "y": {"field": "y", "type": "quantitative", "axis": null, "scale": {"domain": [-9.217, 6.921], "nice": false, "zero": false}}
      },
      "layer": [
        {"data": {"name": "R"}, "transform": [{"filter": "datum.p == 'c' && datum.k == 'axis'"}], "mark": {"type": "rule", "color": "black", "strokeWidth": 2}, "encoding": {"x2": {"field": "x2"}, "y2": {"field": "y2"}}},
        {"data": {"name": "R"}, "transform": [{"filter": "datum.p == 'c' && datum.k == 'tick'"}], "mark": {"type": "rule", "color": "black", "strokeWidth": 1.5}, "encoding": {"x2": {"field": "x2"}, "y2": {"field": "y2"}}},
        {"data": {"name": "R"}, "transform": [{"filter": "datum.p == 'c' && datum.k == 'bar'"}], "mark": {"type": "rule", "color": "black", "strokeWidth": 1.1}, "encoding": {"x2": {"field": "x2"}, "y2": {"field": "y2"}}},
        {"data": {"name": "C"}, "transform": [{"filter": "datum.s == 'b' && isValid(datum.i)"}], "mark": {"type": "line", "color": "#191970", "strokeWidth": 1.8, "strokeDash": [5, 3]}, "encoding": {"order": {"field": "i", "type": "quantitative"}}},
        {"data": {"name": "C"}, "transform": [{"filter": "datum.s == 'b' && isValid(datum.u)"}], "mark": {"type": "rule", "color": "#191970", "strokeWidth": 1.6}, "encoding": {"x2": {"field": "u"}, "y2": {"field": "v"}}},
        {"data": {"name": "C"}, "transform": [{"filter": "datum.s == 'r' && isValid(datum.i)"}], "mark": {"type": "line", "color": "#8b0000", "strokeWidth": 1.9}, "encoding": {"order": {"field": "i", "type": "quantitative"}}},
        {"data": {"name": "C"}, "transform": [{"filter": "datum.s == 'r' && isValid(datum.u)"}], "mark": {"type": "rule", "color": "#8b0000", "strokeWidth": 1.7}, "encoding": {"x2": {"field": "u"}, "y2": {"field": "v"}}},
        {"data": {"name": "T"}, "transform": [{"filter": "datum.p == 'c' && indexof(['axis','panel','den'], datum.role) >= 0"}], "mark": {"type": "text", "align": "center", "baseline": "alphabetic", "font": "DejaVu Sans", "color": "black"},
         "encoding": {"text": {"field": "t"}, "size": {"field": "role", "type": "nominal", "legend": null, "scale": {"type": "ordinal", "domain": ["axis","panel","sym","word","idx","scale","pow","num","den"], "range": [20.5,20.5,20.5,20.5,14.5,21.5,14,14.5,14.5]}}, "angle": {"field": "dir", "type": "nominal", "legend": null, "scale": {"type": "ordinal", "domain": ["h","v"], "range": [0,270]}}}},
        {"data": {"name": "T"}, "transform": [{"filter": "datum.p == 'c' && indexof(['word','idx','scale','pow'], datum.role) >= 0"}], "mark": {"type": "text", "align": "left", "baseline": "alphabetic", "font": "DejaVu Sans", "color": "black"},
         "encoding": {"text": {"field": "t"}, "size": {"field": "role", "type": "nominal", "legend": null, "scale": {"type": "ordinal", "domain": ["axis","panel","sym","word","idx","scale","pow","num","den"], "range": [20.5,20.5,20.5,20.5,14.5,21.5,14,14.5,14.5]}}, "angle": {"field": "dir", "type": "nominal", "legend": null, "scale": {"type": "ordinal", "domain": ["h","v"], "range": [0,270]}}}},
        {"data": {"name": "T"}, "transform": [{"filter": "datum.p == 'c' && indexof(['sym','num'], datum.role) >= 0"}], "mark": {"type": "text", "align": "left", "baseline": "alphabetic", "font": "DejaVu Sans", "fontStyle": "italic", "color": "black"},
         "encoding": {"text": {"field": "t"}, "size": {"field": "role", "type": "nominal", "legend": null, "scale": {"type": "ordinal", "domain": ["axis","panel","sym","word","idx","scale","pow","num","den"], "range": [20.5,20.5,20.5,20.5,14.5,21.5,14,14.5,14.5]}}, "angle": {"field": "dir", "type": "nominal", "legend": null, "scale": {"type": "ordinal", "domain": ["h","v"], "range": [0,270]}}}}
      ]
    }
  ]
}
